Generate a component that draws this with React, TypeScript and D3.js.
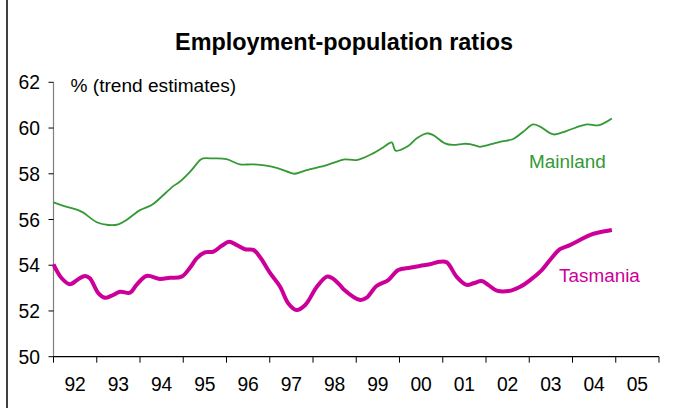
import React from "react";
import * as d3 from "d3";

const yearLabels = ["92", "93", "94", "95", "96", "97", "98", "99", "00", "01", "02", "03", "04", "05"];
const yTicks = [50, 52, 54, 56, 58, 60, 62];

const mainlandDates = [1992.0, 1992.23, 1992.57, 1992.69, 1993.0, 1993.27, 1993.5, 1993.69, 1994.0, 1994.27, 1994.46, 1994.77, 1994.92, 1995.16, 1995.39, 1995.46, 1995.69, 1996.0, 1996.31, 1996.62, 1997.16, 1997.47, 1997.58, 1997.85, 1998.32, 1998.62, 1998.74, 1999.01, 1999.39, 1999.63, 1999.82, 1999.91, 2000.2, 2000.4, 2000.63, 2000.78, 2001.05, 2001.24, 2001.48, 2001.63, 2001.86, 2001.94, 2002.32, 2002.63, 2002.86, 2003.09, 2003.25, 2003.56, 2003.87, 2004.33, 2004.6, 2004.91];
const mainlandValues = [56.75, 56.6, 56.41, 56.3, 55.88, 55.76, 55.79, 55.98, 56.41, 56.63, 56.93, 57.46, 57.65, 58.09, 58.6, 58.67, 58.67, 58.64, 58.41, 58.41, 58.26, 58.05, 58.0, 58.16, 58.38, 58.57, 58.63, 58.6, 58.89, 59.16, 59.37, 59.01, 59.21, 59.55, 59.77, 59.69, 59.33, 59.26, 59.31, 59.3, 59.18, 59.21, 59.4, 59.52, 59.84, 60.16, 60.06, 59.72, 59.88, 60.16, 60.12, 60.42];

const tasmaniaDates = [1992.0, 1992.19, 1992.38, 1992.57, 1992.73, 1992.84, 1993.04, 1993.19, 1993.35, 1993.54, 1993.77, 1993.92, 1994.15, 1994.46, 1994.69, 1994.96, 1995.16, 1995.31, 1995.5, 1995.69, 1995.89, 1996.06, 1996.24, 1996.43, 1996.62, 1996.77, 1997.01, 1997.24, 1997.43, 1997.62, 1997.82, 1998.09, 1998.32, 1998.43, 1998.62, 1998.7, 1999.09, 1999.24, 1999.47, 1999.74, 1999.97, 2000.24, 2000.47, 2000.7, 2000.92, 2001.09, 2001.32, 2001.55, 2001.71, 2001.9, 2002.05, 2002.25, 2002.52, 2002.79, 2003.02, 2003.29, 2003.48, 2003.71, 2003.94, 2004.17, 2004.4, 2004.63, 2004.91];
const tasmaniaValues = [54.04, 53.43, 53.17, 53.39, 53.53, 53.43, 52.77, 52.58, 52.67, 52.84, 52.8, 53.14, 53.53, 53.4, 53.45, 53.5, 53.9, 54.3, 54.56, 54.59, 54.85, 55.03, 54.88, 54.7, 54.67, 54.37, 53.65, 53.06, 52.33, 52.04, 52.26, 53.06, 53.5, 53.45, 53.14, 52.96, 52.48, 52.58, 53.09, 53.35, 53.79, 53.89, 53.97, 54.04, 54.15, 54.13, 53.5, 53.14, 53.21, 53.31, 53.14, 52.89, 52.87, 53.06, 53.35, 53.79, 54.23, 54.7, 54.88, 55.1, 55.32, 55.44, 55.54];

const W = 674;
const H = 408;
const FONT = "'Liberation Sans', Arial, sans-serif";

export default function App() {
  const x = d3.scaleLinear().domain([1992, 2006]).range([53.5, 659]);
  const y = d3.scaleLinear().domain([50, 62]).range([356.7, 82.3]);

  const line = d3
    .line<[number, number]>()
    .x((d) => x(d[0]))
    .y((d) => y(d[1]))
    .curve(d3.curveCatmullRom.alpha(0.5));

  const mainland = mainlandDates.map((d, i) => [d, mainlandValues[i]] as [number, number]);
  const tasmania = tasmaniaDates.map((d, i) => [d, tasmaniaValues[i]] as [number, number]);

  const yearTicks = d3.range(1992, 2007);

  return (
    <svg
      width={W}
      height={H}
      style={{ position: "absolute", left: 0, top: 0, background: "#fff" }}
      fontFamily={FONT}
    >
      <rect x={0} y={0} width={W} height={H} fill="#fff" />
      <line x1={7} x2={7} y1={0} y2={H} stroke="#000" strokeWidth={1.5} />
      <text x={344} y={50} textAnchor="middle" fontSize={23.4} fontWeight="bold" fill="#000">
        Employment-population ratios
      </text>
      <text x={70.5} y={91.5} fontSize={19.1} fill="#000">
        % (trend estimates)
      </text>

      {/* y axis */}
      <line x1={x(1992)} x2={x(1992)} y1={y(62)} y2={y(50)} stroke="#808080" strokeWidth={1.2} />
      {yTicks.map((t) => (
        <g key={t}>
          <line x1={x(1992) - 5} x2={x(1992)} y1={y(t)} y2={y(t)} stroke="#000" strokeWidth={1} />
          <text x={40} y={y(t) + 7} textAnchor="end" fontSize={19.3} fill="#000">
            {t}
          </text>
        </g>
      ))}

      {/* x axis */}
      <line x1={x(1992)} x2={x(2006)} y1={y(50)} y2={y(50)} stroke="#000" strokeWidth={1.2} />
      {yearTicks.map((t) => (
        <line key={t} x1={x(t)} x2={x(t)} y1={y(50)} y2={y(50) + 6} stroke="#000" strokeWidth={1} />
      ))}
      {yearLabels.map((lab, i) => (
        <text key={lab} x={x(1992 + i + 0.5)} y={390.7} textAnchor="middle" fontSize={19.3} fill="#000">
          {lab}
        </text>
      ))}

      <path d={line(mainland) || ""} fill="none" stroke="#339933" strokeWidth={1.8} />
      <path d={line(tasmania) || ""} fill="none" stroke="#cc0099" strokeWidth={4} strokeLinejoin="round" />

      <text x={529} y={168.3} fontSize={18.9} fill="#339933">
        Mainland
      </text>
      <text x={559} y={281.7} fontSize={18.9} fill="#cc0099">
        Tasmania
      </text>
    </svg>
  );
}
